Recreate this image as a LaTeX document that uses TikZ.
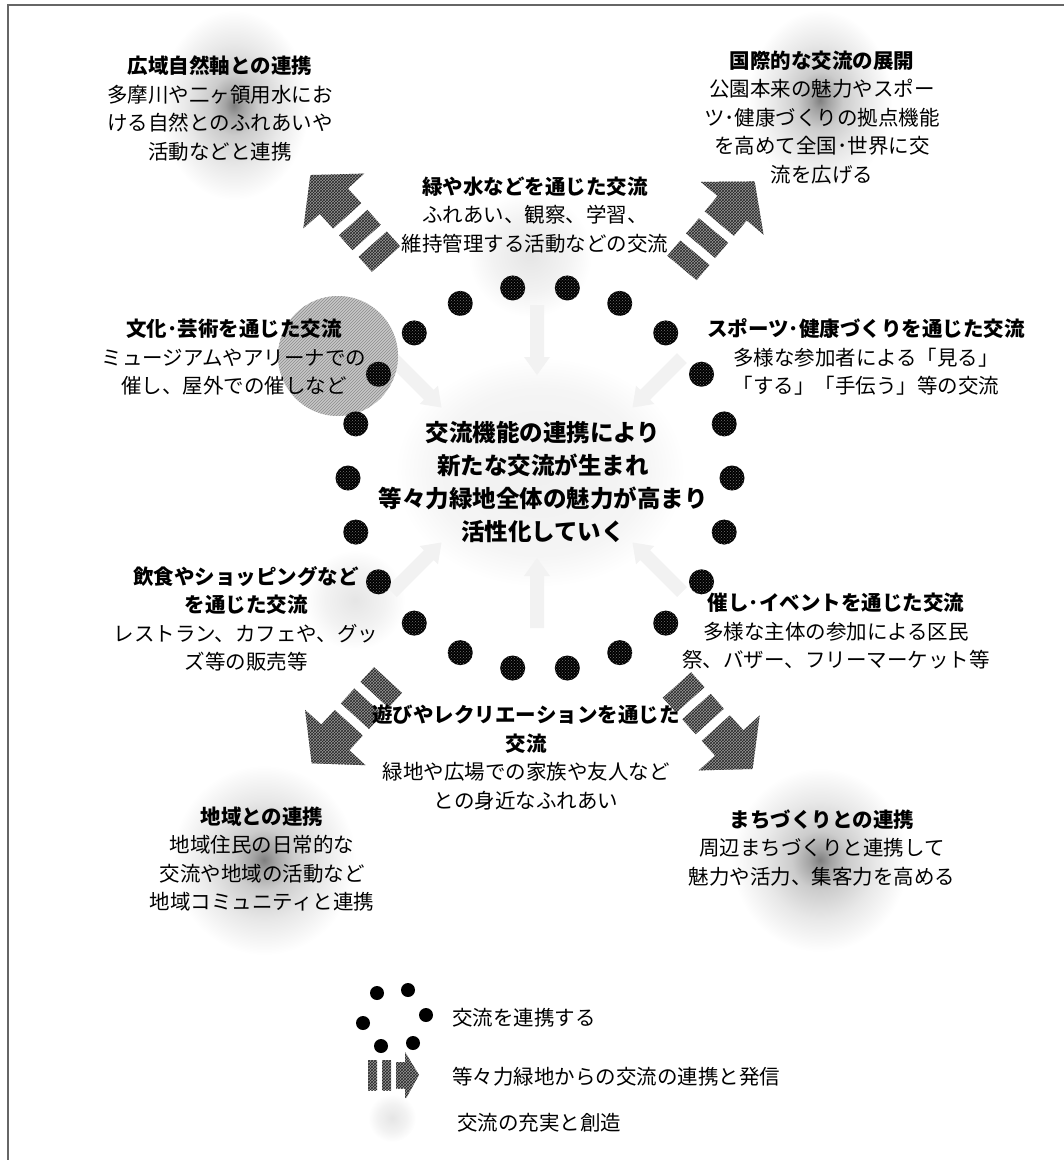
\documentclass[tikz,border=0pt]{standalone}
\usepackage{fontspec}
\setmainfont{Noto Sans CJK JP}
\usetikzlibrary{patterns}
\pgfdeclareradialshading{blobsh}{\pgfpoint{0bp}{0bp}}{color(0bp)=(black!50); color(3bp)=(black!36); color(8bp)=(black!20); color(16bp)=(black!9); color(22bp)=(black!3); color(25bp)=(white); color(50bp)=(white)}
\pgfdeclareradialshading{faintsh}{\pgfpoint{0bp}{0bp}}{color(0bp)=(black!10); color(15bp)=(black!5); color(25bp)=(white); color(50bp)=(white)}
\pgfdeclareradialshading{haloish}{\pgfpoint{0bp}{0bp}}{color(0bp)=(black!6); color(18bp)=(black!4); color(25bp)=(white); color(50bp)=(white)}
\tikzset{
  txt/.style={align=center, inner sep=0pt, font=\fontsize{20.5}{28.5}\selectfont},
  ctxt/.style={align=center, inner sep=0pt, font=\bfseries\fontsize{23.5}{33}\selectfont},
  lgtxt/.style={anchor=west, inner sep=0pt, font=\fontsize{20.5}{24}\selectfont},
  dot/.style={circle, fill=black, minimum size=25pt, inner sep=0pt, postaction={pattern=crosshatch dots, pattern color=black!55}},
  ldot/.style={circle, fill=black, minimum size=14pt, inner sep=0pt},
  arrowfill/.style={fill=black!40, postaction={pattern=crosshatch, pattern color=black!85}},
  faint/.style={fill=black!5},
}
\newcommand\bigarrow[3]{%
  \begin{scope}[shift={(#1,#2)}, rotate=#3]
    \fill[arrowfill] (0,-19) rectangle (20,19);
    \fill[arrowfill] (29,-19) rectangle (49,19);
    \fill[arrowfill] (58,-19) -- (78,-19) -- (78,-41) -- (113,0) -- (78,41) -- (78,19) -- (58,19) -- cycle;
  \end{scope}}
\newcommand\faintarrow[3]{%
  \begin{scope}[shift={(#1,#2)}, rotate=#3]
    \fill[faint] (0,-7) -- (52,-7) -- (52,-13) -- (70,0) -- (52,13) -- (52,7) -- (0,7) -- cycle;
  \end{scope}}
\begin{document}
\begin{tikzpicture}[x=1pt,y=-1pt]
\useasboundingbox (0,0) rectangle (1064,1160);
\draw[black!60, line width=1.2pt] (8,5) rectangle (1068,1168);
% soft blobs
\shade[shading=blobsh] (234,105) ellipse [x radius=75, y radius=95];
\shade[shading=blobsh] (820,100) ellipse [x radius=72, y radius=90];
\shade[shading=blobsh] (264,860) ellipse [x radius=92, y radius=95];
\shade[shading=blobsh] (820,860) ellipse [x radius=88, y radius=92];
\shade[shading=faintsh] (530,255) circle (62);
\shade[shading=faintsh] (355,600) circle (50);
\shade[shading=haloish] (540,472) ellipse [x radius=145, y radius=115];
% faint inner arrows
\faintarrow{537}{305}{-90}
\faintarrow{537}{628}{90}
\faintarrow{392}{358}{-45}
\faintarrow{682}{358}{-135}
\faintarrow{392}{592}{45}
\faintarrow{682}{592}{135}
% grey circle behind culture text
\fill[black!22, postaction={pattern=north east lines, pattern color=black!45}] (338,356) circle (60);
% ring of dots
\foreach \k in {0,...,21}{
  \pgfmathsetmacro\ang{8.1818+16.3636*\k}
  \node[dot] (d\k) at ({540+192*sin(\ang)},{478-192*cos(\ang)}) {};
}
% big arrows
\bigarrow{386}{259}{132}
\bigarrow{682}{268}{50}
\bigarrow{388}{680}{227.5}
\bigarrow{677}{685}{-48}
% texts
\node[txt] (tl) at (220,108.5) {{\bfseries 広域自然軸との連携}\\多摩川や二ヶ領用水にお\\ける自然とのふれあいや\\活動などと連携};
\node[txt] (tr) at (822,117.5) {{\bfseries 国際的な交流の展開}\\公園本来の魅力やスポー\\ツ･健康づくりの拠点機能\\を高めて全国･世界に交\\流を広げる};
\node[txt] (tc) at (535,215) {{\bfseries 緑や水などを通じた交流}\\ふれあい、観察、学習、\\維持管理する活動などの交流};
\node[txt] (ml) at (234,357.5) {{\bfseries 文化･芸術を通じた交流}\\ミュージアムやアリーナでの\\催し、屋外での催しなど};
\node[txt] (mr) at (866,357) {{\bfseries スポーツ･健康づくりを通じた交流}\\多様な参加者による「見る」\\「する」「手伝う」等の交流};
\node[ctxt] (c) at (543,482) {交流機能の連携により\\新たな交流が生まれ\\等々力緑地全体の魅力が高まり\\活性化していく};
\node[txt] (ll) at (246,619) {{\bfseries 飲食やショッピングなど}\\{\bfseries を通じた交流}\\レストラン、カフェや、グッ\\ズ等の販売等};
\node[txt] (lr) at (836,631.5) {{\bfseries 催し･イベントを通じた交流}\\多様な主体の参加による区民\\祭、バザー、フリーマーケット等};
\node[txt] (bc) at (526,757.5) {{\bfseries 遊びやレクリエーションを通じた}\\{\bfseries 交流}\\緑地や広場での家族や友人など\\との身近なふれあい};
\node[txt] (bl) at (262,859) {{\bfseries 地域との連携}\\地域住民の日常的な\\交流や地域の活動など\\地域コミュニティと連携};
\node[txt] (br) at (822,848) {{\bfseries まちづくりとの連携}\\周辺まちづくりと連携して\\魅力や活力、集客力を高める};
% legend
\node[ldot] (l1) at (377,993) {};
\node[ldot] (l2) at (408,990) {};
\node[ldot] (l3) at (363,1023) {};
\node[ldot] (l4) at (426,1015) {};
\node[ldot] (l5) at (381,1046) {};
\node[ldot] (l6) at (413,1043) {};
\node[lgtxt] (lt1) at (452,1018) {交流を連携する};
\fill[arrowfill] (368,1060) rectangle (377,1090);
\fill[arrowfill] (382,1060) rectangle (391,1090);
\fill[arrowfill] (396,1062) rectangle (405,1088);
\fill[arrowfill] (405,1052) -- (419,1075) -- (405,1100) -- cycle;
\node[lgtxt] (lt2) at (452,1077) {等々力緑地からの交流の連携と発信};
\shade[shading=faintsh] (392,1118) circle (24);
\node[lgtxt] (lt3) at (457,1123) {交流の充実と創造};
\end{tikzpicture}
\end{document}
